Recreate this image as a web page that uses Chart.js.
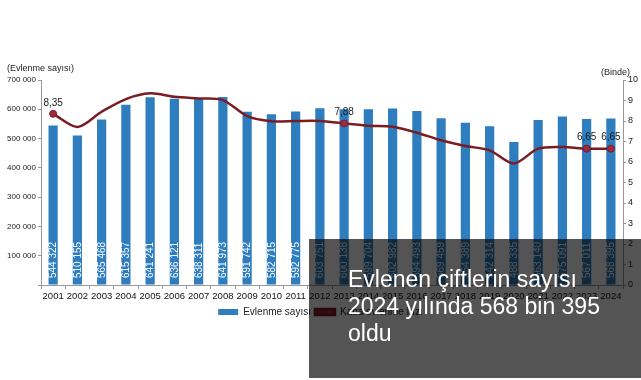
<!DOCTYPE html>
<html>
<head>
<meta charset="utf-8">
<script src="https://cdn.jsdelivr.net/npm/chart.js@4/dist/chart.umd.min.js"></script>
<style>
  html,body{margin:0;padding:0;background:#fff;}
  #wrap{position:relative;width:641px;height:380px;overflow:hidden;}
  #overlay{position:absolute;left:309px;top:239px;width:332px;height:139px;background:rgba(0,0,0,0.67);box-sizing:border-box;padding:27px 10px 0 39px;color:#fff;font-family:"Liberation Sans",Arial,sans-serif;font-size:23px;line-height:27px;}
</style>
</head>
<body>
<div id="wrap">
  <canvas id="c" width="641" height="380"></canvas>
  <div id="overlay">Evlenen çiftlerin sayısı<br>2024 yılında 568 bin 395<br>oldu</div>
</div>
<script>
const years = ['2001','2002','2003','2004','2005','2006','2007','2008','2009','2010','2011','2012','2013','2014','2015','2016','2017','2018','2019','2020','2021','2022','2023','2024'];
const marriages = [544322,510155,565468,615357,641241,636121,638311,641973,591742,582715,592775,603751,600138,599704,602982,594493,569459,554389,542314,488335,563140,575091,567011,568395];
const rates = [8.35,7.71,8.45,9.07,9.35,9.18,9.10,9.02,8.24,7.99,8.00,8.00,7.88,7.77,7.72,7.43,7.06,6.78,6.57,5.93,6.65,6.73,6.65,6.65];
const labeledRatePoints = [0,12,22,23];
const seriesNames = ['Evlenme sayısı','Kaba evlenme hızı'];
const leftAxisTitle = '(Evlenme sayısı)';
const rightAxisTitle = '(Binde)';

const FONT = '"Liberation Sans", Arial, sans-serif';
const fmtInt = v => String(v).replace(/\B(?=(\d{3})+(?!\d))/g, ' ');
const fmtRate = v => v.toFixed(2).replace('.', ',');

const labelsPlugin = {
  id: 'labels',
  afterDatasetsDraw(chart) {
    const ctx = chart.ctx;
    const yb = chart.scales.y.bottom;
    const barMeta = chart.getDatasetMeta(0);
    ctx.save();
    ctx.font = '10px ' + FONT;
    ctx.fillStyle = '#ffffff';
    ctx.textAlign = 'left';
    ctx.textBaseline = 'middle';
    barMeta.data.forEach((el, i) => {
      ctx.save();
      ctx.translate(el.x + 0.5, yb - 7);
      ctx.rotate(-Math.PI / 2);
      ctx.fillText(fmtInt(marriages[i]), 0, 0);
      ctx.restore();
    });
    const lineMeta = chart.getDatasetMeta(1);
    ctx.fillStyle = '#1a1a1a';
    ctx.textAlign = 'center';
    ctx.textBaseline = 'middle';
    labeledRatePoints.forEach(i => {
      const el = lineMeta.data[i];
      ctx.fillText(fmtRate(rates[i]), el.x, el.y - 11);
    });
    ctx.fillStyle = '#222';
    ctx.font = '9px ' + FONT;
    ctx.textAlign = 'left';
    ctx.fillText(leftAxisTitle, 7, 69);
    ctx.fillText(rightAxisTitle, 601, 73);
    ctx.restore();
  }
};

new Chart(document.getElementById('c'), {
  data: {
    labels: years,
    datasets: [
      {
        type: 'bar',
        label: seriesNames[0],
        data: marriages,
        yAxisID: 'y',
        order: 1,
        backgroundColor: '#2e7ebf',
        borderColor: '#2a6ea8',
        borderWidth: 0,
        barPercentage: 0.38,
        categoryPercentage: 1.0
      },
      {
        type: 'line',
        label: seriesNames[1],
        data: rates,
        yAxisID: 'y1',
        order: 0,
        borderColor: '#7a1c22',
        backgroundColor: '#9b2335',
        borderWidth: 2.5,
        tension: 0.3,
        pointRadius: rates.map((_, i) => labeledRatePoints.includes(i) ? 3.5 : 0),
        pointBackgroundColor: '#a02a40',
        pointBorderColor: '#7a1c22',
        pointBorderWidth: 1
      }
    ]
  },
  options: {
    responsive: false,
    animation: false,
    devicePixelRatio: 1,
    layout: { padding: { left: 0, right: 0, top: 80, bottom: 53 } },
    plugins: {
      tooltip: { enabled: false },
      legend: {
        position: 'bottom',
        labels: {
          font: { family: FONT, size: 10 },
          color: '#222',
          boxWidth: 20,
          boxHeight: 6,
          padding: 4,
          sort: (a, b) => a.datasetIndex - b.datasetIndex
        }
      }
    },
    scales: {
      x: {
        offset: true,
        grid: { display: true, drawOnChartArea: false, offset: true, tickLength: 4, color: '#999' },
        border: { display: true, color: '#999' },
        ticks: { font: { family: FONT, size: 9.5 }, color: '#111', maxRotation: 0, autoSkip: false, padding: 2 },
        afterFit: s => { s.height = 18; }
      },
      y: {
        position: 'left',
        min: 0, max: 700000,
        grid: { display: true, drawOnChartArea: false, tickLength: 3, color: '#999' },
        border: { display: true, color: '#999' },
        ticks: {
          stepSize: 100000,
          font: { family: FONT, size: 8 },
          color: '#222',
          padding: 2,
          callback: v => v === 0 ? '' : fmtInt(v)
        },
        afterFit: s => { s.width = 41; }
      },
      y1: {
        position: 'right',
        min: 0, max: 10,
        grid: { display: true, drawOnChartArea: false, tickLength: 3, color: '#999' },
        border: { display: true, color: '#999' },
        ticks: { stepSize: 1, font: { family: FONT, size: 9 }, color: '#222', padding: 2 },
        afterFit: s => { s.width = 18; }
      }
    }
  },
  plugins: [labelsPlugin]
});
</script>
</body>
</html>
